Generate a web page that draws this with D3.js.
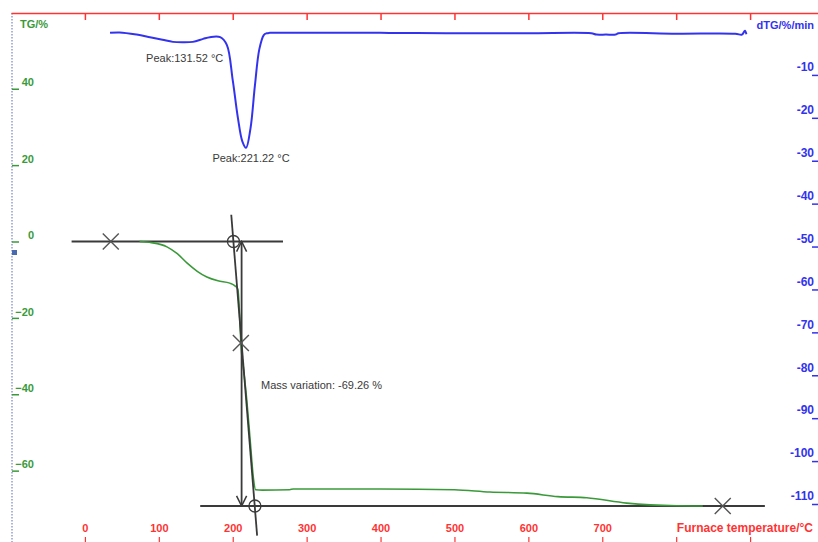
<!DOCTYPE html>
<html>
<head>
<meta charset="utf-8">
<script src="https://cdn.jsdelivr.net/npm/d3@7"></script>
<style>
  body { margin: 0; background: #fff; }
  svg { display: block; font-family: "Liberation Sans", Arial, sans-serif; }
</style>
</head>
<body>
<svg id="chart" width="818" height="542"></svg>
<script>
// temperature / TG readings (°C, %)
const tgTemp = [74, 90, 111, 125, 138, 152, 165, 180, 196, 203, 207, 209, 211, 215, 219, 224, 228, 231, 240, 277, 282, 400, 500, 548, 598, 640, 679, 733, 801, 836];
const tgVals = [0, -0.3, -1.4, -3.2, -5.6, -7.8, -9.3, -10.3, -10.9, -11.6, -12.5, -18, -26.6, -34, -41.5, -53, -62, -65, -65.1, -65.0, -64.8, -64.8, -65.0, -65.6, -65.9, -66.8, -67.1, -68.5, -69.2, -69.26];

// temperature / dTG readings (°C, %/min)
const dtgTemp = [34, 47, 70, 88, 105, 119, 131.5, 146, 160, 169, 183, 192, 200, 207, 213, 218, 224, 230, 236, 242, 246, 250, 300, 400, 500, 600, 685, 692, 705, 718, 722, 800, 880, 889, 893, 895];
const dtgVals = [-0.2, -0.1, -0.6, -1.2, -1.8, -2.3, -2.4, -2.3, -1.6, -1.2, -1.2, -3.0, -11.2, -20, -25.5, -27, -22.5, -12.5, -4, -0.7, -0.3, -0.2, -0.2, -0.2, -0.3, -0.3, -0.3, -0.6, -0.6, -0.6, -0.3, -0.4, -0.4, -0.6, 0.3, -0.5];

const xTicks = [0, 100, 200, 300, 400, 500, 600, 700, 800, 900];
const tgTicks = [40, 20, 0, -20, -40, -60];
const dtgTicks = [-10, -20, -30, -40, -50, -60, -70, -80, -90, -100, -110];

// analysis marks
const massChange = -69.26;
const peaks = [[131.52, "Peak:131.52 °C"], [221.22, "Peak:221.22 °C"]];
const baseTop = [-18, 268];      // TG = 0 baseline extent
const baseBottom = [156, 920];   // TG = massChange baseline extent
const tangent = [[198, 7], [233, -77]];
const onsetPts = [[201, 0], [230, massChange]];
const crossPts = [[35, 0], [211, -26.6], [863, massChange]];
const arrowTemp = 212;

const svg = d3.select("#chart");
const W = 818, H = 542;

const x = d3.scaleLinear().domain([-100, 1000]).range([11, 824]);
const yTG = d3.scaleLinear().domain([0, massChange]).range([241.5, 506]);
const yDTG = d3.scaleLinear().domain([0, -110]).range([32, 504]);

const green = "#3a9a3a", blue = "#3333ee", red = "#ff3333", ink = "#3a3a3a";

svg.append("defs").append("marker")
  .attr("id", "arr").attr("viewBox", "0 0 10 10").attr("refX", 9).attr("refY", 5)
  .attr("markerWidth", 7).attr("markerHeight", 7).attr("orient", "auto-start-reverse")
  .append("path").attr("d", "M1,1 L9,5 L1,9").attr("fill", "none").attr("stroke", ink).attr("stroke-width", 1.2);

// left dotted frame line
svg.append("line").attr("x1", 12).attr("x2", 12).attr("y1", 13).attr("y2", H)
  .attr("stroke", "#8f9fd0").attr("stroke-width", 1.5).attr("stroke-dasharray", "1.5,1.5");

// top red temperature axis (ticks only)
const topAxis = svg.append("g").attr("transform", "translate(0,13)")
  .call(d3.axisBottom(x).tickValues(xTicks).tickSize(7).tickSizeOuter(0).tickFormat(""));
topAxis.select(".domain").attr("stroke", red).attr("stroke-width", 1.5);
topAxis.selectAll(".tick line").attr("stroke", red).attr("stroke-width", 1.5);

// bottom red labels with small ticks under them
const botAxis = svg.append("g").attr("transform", "translate(0,537)")
  .call(d3.axisBottom(x).tickValues(xTicks).tickSize(5).tickSizeOuter(0)
    .tickFormat(d => d <= 700 ? d : ""));
botAxis.select(".domain").remove();
botAxis.selectAll(".tick line").attr("stroke", red).attr("stroke-width", 1.2);
botAxis.selectAll(".tick text").attr("y", -5).attr("dy", 0)
  .attr("fill", red).attr("font-size", 11).attr("font-weight", "bold");
svg.append("text").attr("x", 813).attr("y", 532).attr("text-anchor", "end")
  .attr("fill", red).attr("font-size", 12).attr("font-weight", "bold")
  .text("Furnace temperature/°C");

// left TG axis
const leftAxis = svg.append("g").attr("transform", "translate(12,0)")
  .call(d3.axisRight(yTG).tickValues(tgTicks).tickSize(7).tickSizeOuter(0));
leftAxis.select(".domain").remove();
leftAxis.selectAll(".tick line").attr("stroke", green).attr("stroke-width", 1.5);
leftAxis.selectAll(".tick text").attr("x", 22).attr("dy", "-0.25em").attr("text-anchor", "end")
  .attr("fill", green).attr("font-size", 11).attr("font-weight", "bold");
svg.append("text").attr("x", 20).attr("y", 28).attr("fill", green)
  .attr("font-size", 11).attr("font-weight", "bold").text("TG/%");
svg.append("rect").attr("x", 12).attr("y", 250).attr("width", 5).attr("height", 5).attr("fill", "#4a6ab0");

// right dTG axis
const rightAxis = svg.append("g").attr("transform", "translate(818,0)")
  .call(d3.axisLeft(yDTG).tickValues(dtgTicks).tickSize(6).tickSizeOuter(0)
    .tickFormat(d => d));
rightAxis.select(".domain").remove();
rightAxis.selectAll(".tick line").attr("stroke", blue).attr("stroke-width", 1.5);
rightAxis.selectAll(".tick text").attr("x", -4).attr("dy", "-0.35em")
  .attr("fill", blue).attr("font-size", 12).attr("font-weight", "bold");
svg.append("text").attr("x", 814).attr("y", 29).attr("text-anchor", "end").attr("fill", blue)
  .attr("font-size", 11).attr("font-weight", "bold").text("dTG/%/min");

// dTG curve
svg.append("path")
  .datum(dtgTemp.map((t, i) => [t, dtgVals[i]]))
  .attr("fill", "none").attr("stroke", blue).attr("stroke-width", 2)
  .attr("d", d3.line().x(d => x(d[0])).y(d => yDTG(d[1])).curve(d3.curveCatmullRom));

// peak labels
svg.selectAll(".peak").data(peaks).enter().append("text")
  .attr("x", (d, i) => i === 0 ? x(d[0]) - 36 : x(d[0]) - 36)
  .attr("y", (d, i) => i === 0 ? 62 : 162)
  .attr("fill", ink).attr("font-size", 11).text(d => d[1]);

// analysis lines
const ln = (x1, y1, x2, y2) => svg.append("line")
  .attr("x1", x1).attr("y1", y1).attr("x2", x2).attr("y2", y2)
  .attr("stroke", ink).attr("stroke-width", 1.8);
ln(x(baseTop[0]), yTG(0), x(baseTop[1]), yTG(0));
ln(x(baseBottom[0]), yTG(massChange), x(baseBottom[1]), yTG(massChange));

// TG curve
svg.append("path")
  .datum(tgTemp.map((t, i) => [t, tgVals[i]]))
  .attr("fill", "none").attr("stroke", green).attr("stroke-width", 1.6)
  .attr("d", d3.line().x(d => x(d[0])).y(d => yTG(d[1])).curve(d3.curveMonotoneX));

ln(x(tangent[0][0]), yTG(tangent[0][1]), x(tangent[1][0]), yTG(tangent[1][1]));
ln(x(arrowTemp), yTG(0), x(arrowTemp), yTG(massChange))
  .attr("marker-start", "url(#arr)").attr("marker-end", "url(#arr)");

svg.selectAll(".onset").data(onsetPts).enter().append("circle")
  .attr("cx", d => x(d[0])).attr("cy", d => yTG(d[1])).attr("r", 6)
  .attr("fill", "none").attr("stroke", ink).attr("stroke-width", 1.3);

const cross = svg.selectAll(".cross").data(crossPts).enter().append("path")
  .attr("transform", d => `translate(${x(d[0])},${yTG(d[1])})`)
  .attr("d", "M-8,-8L8,8M-8,8L8,-8")
  .attr("stroke", "#555").attr("stroke-width", 1.4);

svg.append("text").attr("x", 261).attr("y", 389).attr("fill", ink).attr("font-size", 11)
  .text(`Mass variation: ${massChange} %`);
</script>
</body>
</html>
